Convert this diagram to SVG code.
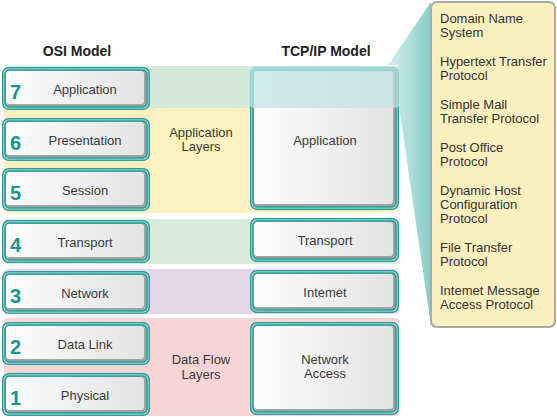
<svg xmlns="http://www.w3.org/2000/svg" width="557" height="417" viewBox="0 0 557 417">
<defs>
<linearGradient id="bg" x1="0" y1="0" x2="1" y2="0">
<stop offset="0" stop-color="#fdfdfd"/>
<stop offset="1" stop-color="#e3e3e3"/>
</linearGradient>
<linearGradient id="wg" gradientUnits="userSpaceOnUse" x1="388" y1="0" x2="431" y2="0">
<stop offset="0" stop-color="#d9f0ee"/>
<stop offset="1" stop-color="#86cbc7"/>
</linearGradient>
<style>
.o{fill:#c2e7e4;stroke:#2c9f9a;stroke-width:1.5}
.i{fill:#a2a2a2;stroke:#22a09a;stroke-width:1.5}
.f{fill:url(#bg)}
.t{font-family:"Liberation Sans",Arial,sans-serif;font-size:13px;fill:#3a3a3a}
.c{text-anchor:middle}
.n{font-family:"Liberation Sans",Arial,sans-serif;font-size:20px;font-weight:bold;fill:#17958f}
.h{font-family:"Liberation Sans",Arial,sans-serif;font-size:14px;font-weight:bold;fill:#222;text-anchor:middle}
.p{font-family:"Liberation Sans",Arial,sans-serif;font-size:13px;fill:#333}
</style>
</defs>
<rect width="557" height="417" fill="#ffffff"/>
<text class="h" x="77" y="56">OSI Model</text>
<text class="h" x="326" y="56">TCP/IP Model</text>
<g id="bands">
<rect x="4" y="66" width="395" height="42" rx="4" fill="#d6eadc"/>
<rect x="4" y="108" width="392" height="105" fill="#fdf1bf"/>
<rect x="4" y="219" width="395" height="45" rx="4" fill="#d9ecda"/>
<rect x="4" y="269" width="395" height="45" rx="4" fill="#e3d7e7"/>
<rect x="4" y="318" width="395" height="98" rx="4" fill="#f7d4d5"/>
<text class="t c" x="201" y="137">Application</text>
<text class="t c" x="201" y="151">Layers</text>
<text class="t c" x="201" y="364">Data Flow</text>
<text class="t c" x="201" y="379">Layers</text>
</g>
<g id="connectors">
<polygon points="388,65 431,2 431,326 398,100 398,65" fill="url(#wg)"/>
</g>
<g id="osi7">
<rect class="o" x="2.75" y="67.75" width="146.5" height="41.5" rx="6"/>
<rect class="i" x="5" y="70" width="142" height="37" rx="4"/>
<rect class="f" x="6" y="71" width="138" height="33" rx="3"/>
<text class="n" x="10" y="98.5">7</text>
<text class="t c" x="85" y="94">Application</text>
</g>
<g id="osi6">
<rect class="o" x="2.75" y="118.75" width="146.5" height="41.5" rx="6"/>
<rect class="i" x="5" y="121" width="142" height="37" rx="4"/>
<rect class="f" x="6" y="122" width="138" height="33" rx="3"/>
<text class="n" x="10" y="149.5">6</text>
<text class="t c" x="85" y="145">Presentation</text>
</g>
<g id="osi5">
<rect class="o" x="2.75" y="168.75" width="146.5" height="41.5" rx="6"/>
<rect class="i" x="5" y="171" width="142" height="37" rx="4"/>
<rect class="f" x="6" y="172" width="138" height="33" rx="3"/>
<text class="n" x="10" y="199.5">5</text>
<text class="t c" x="85" y="195">Session</text>
</g>
<g id="osi4">
<rect class="o" x="2.75" y="220.75" width="146.5" height="41.5" rx="6"/>
<rect class="i" x="5" y="223" width="142" height="37" rx="4"/>
<rect class="f" x="6" y="224" width="138" height="33" rx="3"/>
<text class="n" x="10" y="251.5">4</text>
<text class="t c" x="85" y="247">Transport</text>
</g>
<g id="osi3">
<rect class="o" x="2.75" y="271.75" width="146.5" height="41.5" rx="6"/>
<rect class="i" x="5" y="274" width="142" height="37" rx="4"/>
<rect class="f" x="6" y="275" width="138" height="33" rx="3"/>
<text class="n" x="10" y="302.5">3</text>
<text class="t c" x="85" y="298">Network</text>
</g>
<g id="osi2">
<rect class="o" x="2.75" y="322.75" width="146.5" height="41.5" rx="6"/>
<rect class="i" x="5" y="325" width="142" height="37" rx="4"/>
<rect class="f" x="6" y="326" width="138" height="33" rx="3"/>
<text class="n" x="10" y="353.5">2</text>
<text class="t c" x="85" y="349">Data Link</text>
</g>
<g id="osi1">
<rect class="o" x="2.75" y="373.75" width="146.5" height="41.5" rx="6"/>
<rect class="i" x="5" y="376" width="142" height="37" rx="4"/>
<rect class="f" x="6" y="377" width="138" height="33" rx="3"/>
<text class="n" x="10" y="404.5">1</text>
<text class="t c" x="85" y="400">Physical</text>
</g>
<g id="tcp-app">
<rect class="o" x="250.75" y="67.75" width="147.5" height="141.5" rx="6"/>
<rect class="i" x="253" y="70" width="143" height="137" rx="4"/>
<rect class="f" x="254" y="71" width="139" height="133" rx="3"/>
<text class="t c" x="325" y="145">Application</text>
<rect x="249" y="66" width="151" height="42" rx="5" fill="#bfe4e1" opacity="0.7"/>
</g>
<g id="tcp-transport">
<rect class="o" x="250.75" y="218.75" width="147.5" height="42.5" rx="6"/>
<rect class="i" x="253" y="221" width="143" height="38" rx="4"/>
<rect class="f" x="254" y="222" width="139" height="34" rx="3"/>
<text class="t c" x="325" y="245">Transport</text>
</g>
<g id="tcp-internet">
<rect class="o" x="250.75" y="270.75" width="147.5" height="41.5" rx="6"/>
<rect class="i" x="253" y="273" width="143" height="37" rx="4"/>
<rect class="f" x="254" y="274" width="139" height="33" rx="3"/>
<text class="t c" x="325" y="297">Intemet</text>
</g>
<g id="tcp-access">
<rect class="o" x="250.75" y="322.75" width="147.5" height="91.5" rx="6"/>
<rect class="i" x="253" y="325" width="143" height="87" rx="4"/>
<rect class="f" x="254" y="326" width="139" height="83" rx="3"/>
<text class="t c" x="325" y="364">Network</text>
<text class="t c" x="325" y="378">Access</text>
</g>
<g id="protocols">
<rect x="431" y="2" width="124" height="325" rx="6" fill="#fdf0bf" stroke="#a9a9a9" stroke-width="2"/>
<text class="p" x="440" y="23">Domain Name</text>
<text class="p" x="440" y="37">System</text>
<text class="p" x="440" y="66">Hypertext Transfer</text>
<text class="p" x="440" y="80">Protocol</text>
<text class="p" x="440" y="109">Simple Mail</text>
<text class="p" x="440" y="123">Transfer Protocol</text>
<text class="p" x="440" y="152">Post Office</text>
<text class="p" x="440" y="166">Protocol</text>
<text class="p" x="440" y="195">Dynamic Host</text>
<text class="p" x="440" y="209">Configuration</text>
<text class="p" x="440" y="223">Protocol</text>
<text class="p" x="440" y="252">File Transfer</text>
<text class="p" x="440" y="266">Protocol</text>
<text class="p" x="440" y="295">Intemet Message</text>
<text class="p" x="440" y="309">Access Protocol</text>
</g>
</svg>
